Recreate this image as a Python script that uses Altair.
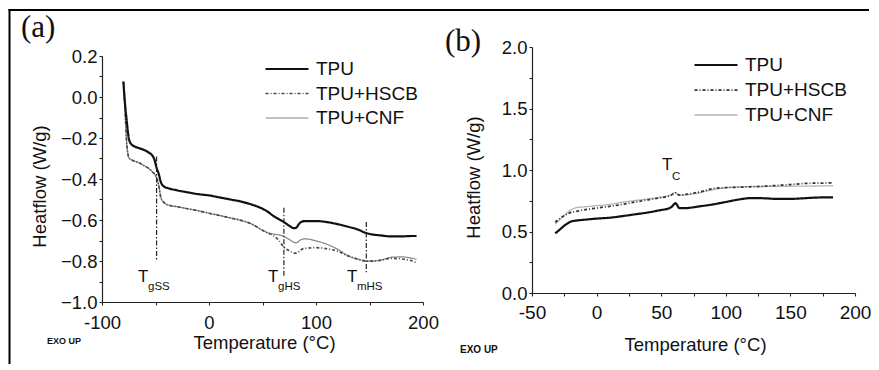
import altair as alt
import pandas as pd

FONT = "Liberation Sans"
SERIF = "Liberation Serif"

SERIES = ["TPU", "TPU+HSCB", "TPU+CNF"]
DRAW_ORDER = ["TPU+CNF", "TPU+HSCB", "TPU"]

# ---------------- panel (a): heating ----------------
A_T = [-80, -79, -78, -77, -76, -75, -73, -70, -65, -60, -56, -53, -51, -49,
       -47, -45, -42, -38, -30, -20, -10, 0, 10, 20, 30, 40, 50, 55, 60, 65,
       70, 75, 78, 80, 82, 84, 86, 90, 100, 110, 120, 130, 140, 146, 150, 160,
       170, 180, 190, 194]
A_TPU = [0.075, 0.0, -0.06, -0.11, -0.16, -0.20, -0.228, -0.24, -0.25, -0.26,
         -0.272, -0.285, -0.305, -0.345, -0.375, -0.415, -0.437, -0.445, -0.455,
         -0.465, -0.474, -0.48, -0.49, -0.50, -0.51, -0.525, -0.545, -0.56,
         -0.58, -0.595, -0.61, -0.628, -0.638, -0.64, -0.635, -0.62, -0.61,
         -0.605, -0.605, -0.61, -0.62, -0.633, -0.648, -0.662, -0.668, -0.675,
         -0.68, -0.68, -0.678, -0.678]
A_HSCB = [0.075, -0.01, -0.12, -0.22, -0.27, -0.295, -0.305, -0.312, -0.322,
          -0.337, -0.35, -0.365, -0.375, -0.395, -0.43, -0.49, -0.515, -0.527,
          -0.535, -0.545, -0.555, -0.567, -0.578, -0.59, -0.602, -0.62, -0.65,
          -0.664, -0.675, -0.698, -0.733, -0.75, -0.758, -0.762, -0.76, -0.754,
          -0.745, -0.738, -0.735, -0.74, -0.752, -0.775, -0.792, -0.80, -0.801,
          -0.797, -0.787, -0.79, -0.80, -0.808]
A_CNF = [0.075, -0.01, -0.12, -0.22, -0.27, -0.295, -0.305, -0.312, -0.322,
         -0.337, -0.35, -0.365, -0.375, -0.395, -0.43, -0.49, -0.515, -0.527,
         -0.535, -0.545, -0.555, -0.567, -0.578, -0.59, -0.602, -0.62, -0.65,
         -0.662, -0.668, -0.672, -0.68, -0.695, -0.705, -0.71, -0.71, -0.703,
         -0.696, -0.692, -0.702, -0.718, -0.742, -0.775, -0.792, -0.80, -0.801,
         -0.796, -0.782, -0.78, -0.787, -0.792]

A_MARK_T = [-49, 70, 147]
A_MARK_TOP = [-0.29, -0.54, -0.61]
A_MARK_BOTTOM = [-0.80, -0.875, -0.855]
A_LAB_T = [-66.4, 55.1, 129.0]
A_LAB_V = [-0.902, -0.902, -0.902]
A_LAB_TEXT = ["T", "T", "T"]
A_SUB_T = [-57.0, 64.5, 138.3]
A_SUB_V = [-0.941, -0.941, -0.941]
A_SUB_TEXT = ["gSS", "gHS", "mHS"]

A_XTICKS = [-100, -50, 0, 50, 100, 150, 200]
A_YTICKS = [-1.0, -0.9, -0.8, -0.7, -0.6, -0.5, -0.4, -0.3, -0.2, -0.1, 0.0, 0.1, 0.2]

# ---------------- panel (b): cooling ----------------
B_T = [-32, -28, -24, -20, -15, -10, 0, 10, 20, 30, 40, 50, 55, 58, 60, 61,
       62, 64, 68, 80, 90, 100, 110, 120, 130, 140, 150, 160, 170, 183]
B_TPU = [0.485, 0.52, 0.555, 0.58, 0.59, 0.595, 0.605, 0.612, 0.625, 0.64,
         0.655, 0.675, 0.685, 0.70, 0.722, 0.73, 0.72, 0.69, 0.69, 0.705, 0.72,
         0.74, 0.76, 0.772, 0.77, 0.765, 0.765, 0.77, 0.776, 0.778]
B_HSCB = [0.575, 0.61, 0.635, 0.655, 0.665, 0.675, 0.69, 0.705, 0.72, 0.74,
          0.758, 0.775, 0.785, 0.797, 0.812, 0.815, 0.808, 0.795, 0.80, 0.822,
          0.848, 0.857, 0.86, 0.864, 0.868, 0.875, 0.882, 0.89, 0.893, 0.895]
B_CNF = [0.56, 0.60, 0.64, 0.675, 0.695, 0.70, 0.71, 0.72, 0.738, 0.752, 0.765,
         0.78, 0.79, 0.80, 0.815, 0.818, 0.81, 0.795, 0.797, 0.815, 0.84, 0.855,
         0.862, 0.865, 0.866, 0.867, 0.868, 0.869, 0.87, 0.872]

B_LAB_T = [50.6]
B_LAB_V = [1.0]
B_LAB_TEXT = ["T"]
B_SUB_T = [58.4]
B_SUB_V = [0.919]
B_SUB_TEXT = ["C"]

B_XTICKS = [-50, -25, 0, 25, 50, 75, 100, 125, 150, 175, 200]
B_YTICKS = [0.0, 0.25, 0.5, 0.75, 1.0, 1.25, 1.5, 1.75, 2.0]


def long_df(T, values):
    rows = []
    by_name = dict(zip(SERIES, values))
    for name in DRAW_ORDER:
        for t, v in zip(T, by_name[name]):
            rows.append({"T": t, "v": v, "s": name})
    return pd.DataFrame(rows)


AXIS = dict(grid=False, domainColor="#222", domainWidth=1.2, tickColor="#222",
            tickWidth=1.1, tickSize=3, labelFont=FONT, labelColor="#111",
            titleFont=FONT, titleColor="#111", titleFontWeight="normal",
            labelFlush=False, labelOverlap=False)


def legend(x, y, rowpad):
    return alt.Legend(title=None, orient="none", legendX=x, legendY=y,
                      symbolType="stroke", symbolSize=1849, clipHeight=18,
                      rowPadding=rowpad, labelFont=FONT, labelFontSize=19,
                      labelColor="#111", labelOffset=6, padding=0)


FRAME_W = 2


def frame_rule(x1, x2, y1, y2):
    return alt.Chart(pd.DataFrame({"k": [0]})).mark_rule(
        color="#000", strokeWidth=FRAME_W, strokeCap="square").encode(
        x=alt.value(x1), x2=alt.value(x2), y=alt.value(y1), y2=alt.value(y2))


def note(text, x, y, size, bold=False, font=FONT):
    return alt.Chart(pd.DataFrame({"t": [text]})).mark_text(
        align="left", baseline="alphabetic" if not bold else "middle",
        font=font, fontSize=size, fontWeight="bold" if bold else "normal",
        color="#111").encode(x=alt.value(x), y=alt.value(y), text="t:N")


def panel(T, vals, colors, dashes, widths, xenc, yenc, leg, labels, subs,
          marks=None):
    df = long_df(T, vals)
    lines = alt.Chart(df).mark_line(interpolate="monotone", strokeJoin="round").encode(
        x=xenc, y=yenc,
        color=alt.Color("s:N", scale=alt.Scale(domain=SERIES, range=colors), legend=leg),
        strokeDash=alt.StrokeDash("s:N", scale=alt.Scale(domain=SERIES, range=dashes), legend=leg),
        strokeWidth=alt.StrokeWidth("s:N", scale=alt.Scale(domain=SERIES, range=widths), legend=leg),
        detail="s:N",
    )
    layers = [lines]
    if marks is not None:
        layers.append(alt.Chart(marks).mark_rule(
            color="#222", strokeWidth=1.2, strokeDash=[5, 2, 1.5, 2]).encode(
            x=xenc, y=yenc, y2=alt.Y2("bottom:Q")))
    layers.append(alt.Chart(labels).mark_text(
        align="left", baseline="alphabetic", font=FONT, fontSize=17,
        color="#111").encode(x=xenc, y=yenc, text="t:N"))
    layers.append(alt.Chart(subs).mark_text(
        align="left", baseline="alphabetic", font=FONT, fontSize=11.5,
        color="#111").encode(x=xenc, y=yenc, text="t:N"))
    return layers


# ---- panel (a)
xa = alt.X("T:Q", scale=alt.Scale(domain=[-100, 200], nice=False, zero=False),
           axis=alt.Axis(values=A_XTICKS,
                         labelExpr="datum.value % 100 == 0 ? '' + datum.value : ''",
                         title="Temperature (°C)", labelFontSize=18.5, labelPadding=8,
                         titleFontSize=18.5, titleX=162, titleY=46.5,
                         titleBaseline="alphabetic", titleAlign="center", **AXIS))
ya = alt.Y("v:Q", scale=alt.Scale(domain=[-1.0, 0.2], range=[255, 9], nice=False, zero=False),
           axis=alt.Axis(values=A_YTICKS,
                         labelExpr="abs(round(datum.value*10)) % 2 == 0 ? format(datum.value, '.1f') : ''",
                         title="Heatflow (W/g)", labelFontSize=18.5, labelPadding=2,
                         titleFontSize=18.5, titleX=-57, titleY=139, titleAngle=-90,
                         titleAlign="center", titleBaseline="alphabetic", **AXIS))

marks_a = pd.DataFrame({"T": A_MARK_T, "v": A_MARK_TOP, "bottom": A_MARK_BOTTOM})
lab_a = pd.DataFrame({"T": A_LAB_T, "v": A_LAB_V, "t": A_LAB_TEXT})
sub_a = pd.DataFrame({"T": A_SUB_T, "v": A_SUB_V, "t": A_SUB_TEXT})

layers_a = panel(A_T, [A_TPU, A_HSCB, A_CNF], ["#111111", "#4a4a4a", "#858585"],
                 [[1, 0], [3, 2, 1, 2], [1, 0]], [2.2, 1.2, 1.5], xa, ya,
                 legend(162, 13, 5.5), lab_a, sub_a, marks_a)
layers_a += [
    note("(a)", -81, -10, 31, font=SERIF),
    note("EXO UP", -55, 294, 9, bold=True),
    frame_rule(-92.5, 337, -37, -37),
    frame_rule(-92.5, -92.5, -37, 316),
]
panel_a = alt.layer(*layers_a).properties(width=321, height=255)

# ---- panel (b)
xb = alt.X("T:Q", scale=alt.Scale(domain=[-50, 200], nice=False, zero=False),
           axis=alt.Axis(values=B_XTICKS,
                         labelExpr="datum.value % 50 == 0 ? '' + datum.value : ''",
                         title="Temperature (°C)", labelFontSize=19, labelPadding=7,
                         titleFontSize=18.5, titleX=163, titleY=57.5,
                         titleBaseline="alphabetic", titleAlign="center", **AXIS))
yb = alt.Y("v:Q", scale=alt.Scale(domain=[0, 2.0], nice=False, zero=False),
           axis=alt.Axis(values=B_YTICKS,
                         labelExpr="(datum.value * 2) % 1 == 0 ? format(datum.value, '.1f') : ''",
                         title="Heatflow (W/g)", labelFontSize=18.5, labelPadding=2,
                         titleFontSize=18.5, titleX=-53, titleY=130, titleAngle=-90,
                         titleAlign="center", titleBaseline="alphabetic", **AXIS))

lab_b = pd.DataFrame({"T": B_LAB_T, "v": B_LAB_V, "t": B_LAB_TEXT})
sub_b = pd.DataFrame({"T": B_SUB_T, "v": B_SUB_V, "t": B_SUB_TEXT})

layers_b = panel(B_T, [B_TPU, B_HSCB, B_CNF], ["#111111", "#333333", "#b4b4b4"],
                 [[1, 0], [3, 2, 1, 2], [1, 0]], [2.2, 1.3, 1.5], xb, yb,
                 legend(161, 9, 6), lab_b, sub_b)
layers_b += [
    note("(b)", -87, 4, 31, font=SERIF),
    note("EXO UP", -72, 303, 10, bold=True),
    frame_rule(-96, 336, -37, -37),
]
panel_b = alt.layer(*layers_b).properties(width=323, height=246)

chart = alt.hconcat(panel_a, panel_b, spacing=-7).resolve_scale(
    x="independent", y="independent", color="independent",
    strokeDash="independent", strokeWidth="independent"
).resolve_legend(
    color="independent", strokeDash="independent", strokeWidth="independent"
).properties(padding=0).configure_view(stroke=None)

chart.save("out.html", embed_options={"renderer": "svg", "actions": False})
